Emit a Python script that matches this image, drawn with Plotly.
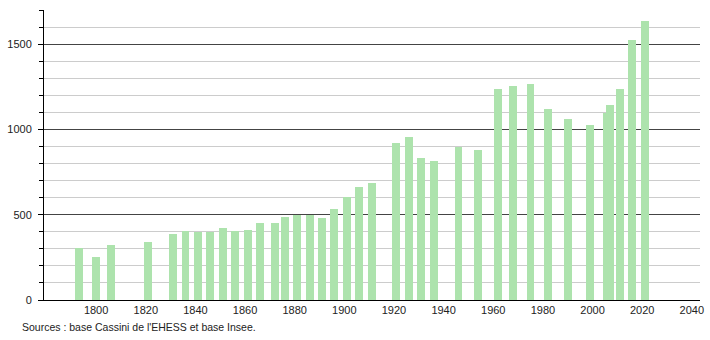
import plotly.graph_objects as go

years = [1793, 1800, 1806, 1821, 1831, 1836, 1841, 1846, 1851, 1856, 1861, 1866,
         1872, 1876, 1881, 1886, 1891, 1896, 1901, 1906, 1911, 1921, 1926, 1931,
         1936, 1946, 1954, 1962, 1968, 1975, 1982, 1990, 1999, 2006, 2007, 2011,
         2016, 2021]
population = [307, 255, 320, 341, 388, 402, 398, 398, 424, 404, 412, 451,
              451, 488, 496, 496, 482, 535, 604, 663, 688, 922, 953, 833,
              816, 896, 882, 1235, 1257, 1265, 1118, 1063, 1024, 1098, 1145, 1235,
              1524, 1633]

xticks = [1800, 1820, 1840, 1860, 1880, 1900, 1920, 1940, 1960, 1980, 2000, 2020, 2040]
yticks = [0, 500, 1000, 1500]
source_text = "Sources : base Cassini de l'EHESS et base Insee."

fig = go.Figure()
fig.add_trace(go.Bar(
    x=years, y=population, width=3.2,
    marker=dict(color="#ade3ad", line=dict(width=0)),
    hoverinfo="x+y",
))

fig.update_layout(
    width=710, height=340,
    margin=dict(l=44, r=10, t=10, b=40),
    paper_bgcolor="white", plot_bgcolor="white",
    showlegend=False,
    font=dict(family="Liberation Sans, Arial, sans-serif", size=11, color="#222"),
    bargap=0,
)
fig.update_xaxes(
    range=[1779, 2043.3], automargin=False,
    tickmode="array", tickvals=xticks, ticktext=[str(v) for v in xticks],
    showgrid=False, zeroline=False,
    showline=True, linecolor="black", linewidth=1,
    ticks="", tickfont=dict(size=11, color="#222"),
)
fig.update_yaxes(
    range=[0, 1700], automargin=False,
    tickmode="array", tickvals=yticks,
    showgrid=True, gridcolor="#444", gridwidth=1,
    zeroline=False,
    showline=True, linecolor="black", linewidth=1,
    ticks="outside", ticklen=5, tickcolor="black",
    ticklabelstandoff=4,
    tickfont=dict(size=11, color="#222"),
    minor=dict(dtick=100, tick0=0, showgrid=True, gridcolor="#cccccc", gridwidth=1,
               ticks="outside", ticklen=4, tickcolor="black"),
)
fig.add_annotation(
    text=source_text, xref="paper", yref="paper",
    x=-0.037, y=-0.066, xanchor="left", yanchor="top",
    showarrow=False, font=dict(size=10.5, color="#222"),
)
fig.write_html("out.html")
